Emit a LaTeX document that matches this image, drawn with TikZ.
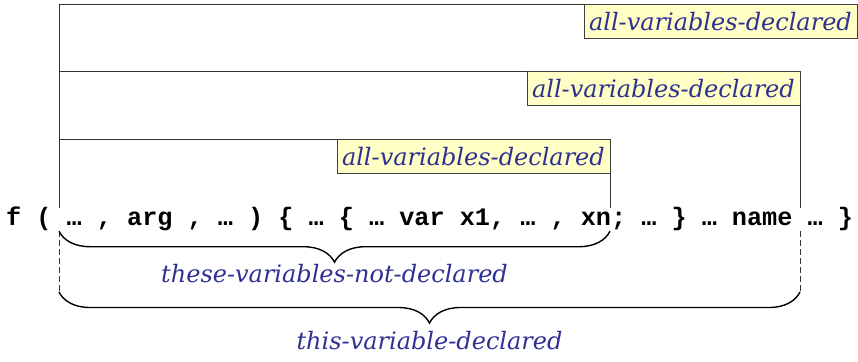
\documentclass[tikz,border=0pt]{standalone}
\usepackage{fontspec}
\usepackage{tikz}
\usetikzlibrary{decorations.pathreplacing}
\newfontfamily\codefont{Liberation Mono}
\newfontfamily\declfont{DejaVu Serif}
\definecolor{declblue}{RGB}{46,49,146}
\definecolor{declfill}{RGB}{255,255,198}

\begin{document}
\begin{tikzpicture}[x=1pt, y=-1pt,
    decl/.style={draw=black!75, fill=declfill, text=declblue, font=\declfont\itshape\fontsize{24}{27}\selectfont, minimum height=34pt, inner xsep=5pt, inner ysep=2pt, anchor=north east},
    codeline/.style={font=\codefont\bfseries\fontsize{25.2}{28}\selectfont, inner xsep=0pt, inner ysep=1pt, text height=16pt, text depth=5pt, anchor=base west},
    bracelabel/.style={text=declblue, font=\declfont\itshape\fontsize{24}{27}\selectfont, inner sep=0pt},
    curly/.style={decorate, decoration={brace, amplitude=31pt}, line width=1.4pt},
    scopeline/.style={draw=black!80, line width=0.9pt}]
    \useasboundingbox (0,0) rectangle (858,361);
    \node[codeline] (code) at (6,225) {f ( … , arg , … ) \{ … \{ … var x1, … , xn; … \} … name … \}};
    \node[decl] (outer) at (857,4) {all-variables-declared};
    \node[decl] (middle) at (800,71) {all-variables-declared};
    \node[decl] (inner) at (610,139) {all-variables-declared};
    \coordinate (top) at (59,4);
    \coordinate (bigL) at (59,292);
    \coordinate (bigR) at (middle.south east |- bigL);
    \draw[scopeline] (outer.north west) -- (top) -- (top |- code.north);
    \draw[scopeline] (middle.north west) -- (top |- middle.north);
    \draw[scopeline] (inner.north west) -- (top |- inner.north);
    \draw[scopeline] (middle.south east) -- (middle.south east |- code.north);
    \draw[scopeline] (inner.south east) -- (inner.south east |- code.north);
    \draw[scopeline, dashed, dash pattern=on 6pt off 3pt] (top |- code.south) -- (bigL);
    \draw[scopeline, dashed, dash pattern=on 6pt off 3pt] (middle.south east |- code.south) -- (bigR);
    \draw[curly] (inner.south east |- code.south) -- (top |- code.south)
        node[midway, below=32pt, bracelabel] (notdecl) {these-variables-not-declared};
    \draw[curly] (bigR) -- (bigL)
        node[midway, below=39pt, bracelabel] (thisdecl) {this-variable-declared};
\end{tikzpicture}
\end{document}
